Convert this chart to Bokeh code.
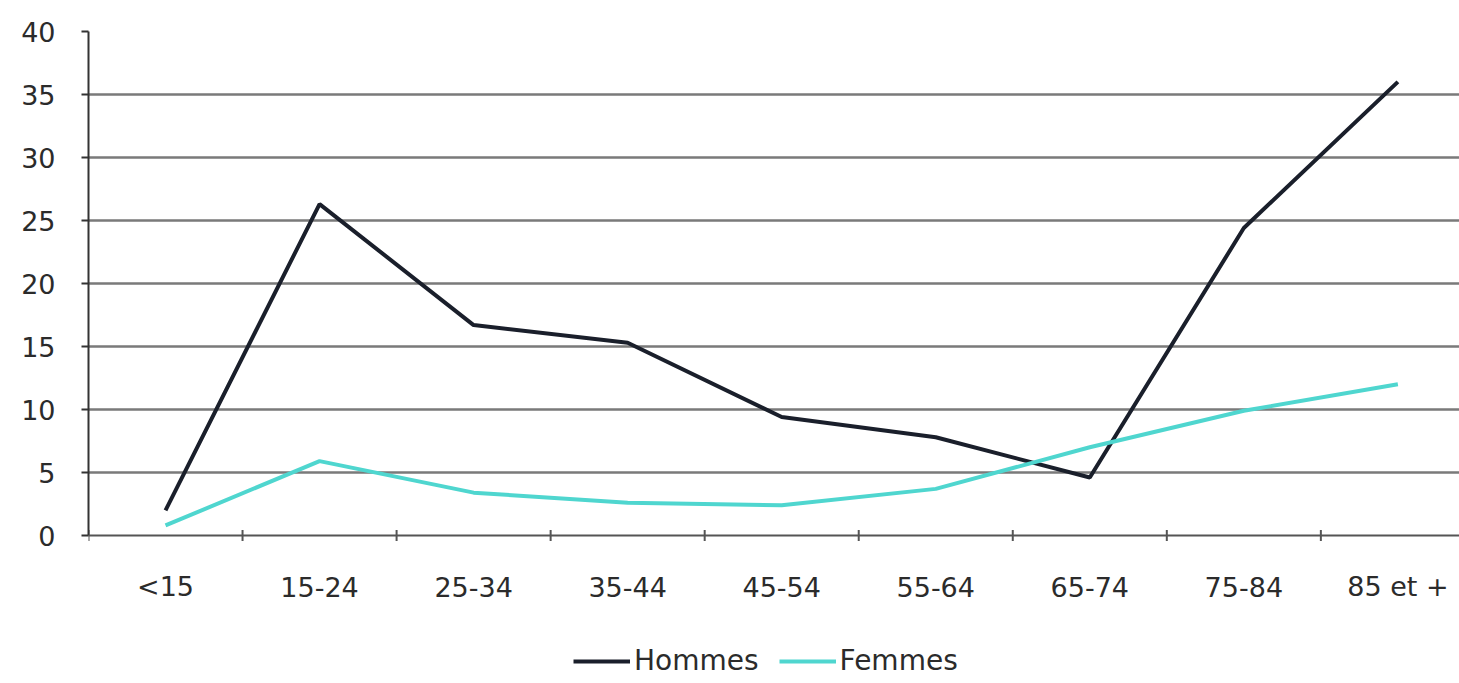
import math
from bokeh.plotting import figure
from bokeh.models import Range1d, FixedTicker, Legend, LegendItem, LinearAxis, Grid, Span
from bokeh.core.properties import value
from bokeh.embed import file_html
from bokeh.resources import INLINE

categories = ["<15", "15-24", "25-34", "35-44", "45-54", "55-64", "65-74", "75-84", "85 et +"]
hommes = [2.0, 26.3, 16.7, 15.3, 9.4, 7.8, 4.6, 24.4, 36.0]
femmes = [0.8, 5.9, 3.4, 2.6, 2.4, 3.7, 7.0, 9.9, 12.0]
y_ticks = [0, 5, 10, 15, 20, 25, 30, 35, 40]

xs = list(range(len(categories)))
boundaries = [i - 0.5 for i in xs]
font = "DejaVu Sans"
fsize = "27px"
tcolor = "#2b2b2b"
axis_color = "#555555"

# frame extends to the bottom of the window; value 0 sits 148 px above it
y_min = -148 / (504 / 40)

p = figure(frame_width=1371, frame_height=652, output_backend="svg", toolbar_location=None,
           x_range=Range1d(-0.5, len(categories) - 0.6), y_range=Range1d(y_min, 40),
           min_border_left=88, min_border_right=0, min_border_top=31, min_border_bottom=0,
           x_axis_type=None, y_axis_type=None)
p.outline_line_color = None
p.background_fill_color = "white"
p.border_fill_color = "white"

# y axis
yax = LinearAxis(ticker=FixedTicker(ticks=y_ticks), bounds=(0, 40))
yax.axis_line_color = "#333333"
yax.axis_line_width = 2
yax.major_tick_in = 0
yax.major_tick_out = 7
yax.major_tick_line_color = "#333333"
yax.major_tick_line_width = 2
yax.minor_tick_line_color = None
yax.major_label_text_font = font
yax.major_label_text_font_size = fsize
yax.major_label_text_color = tcolor
yax.major_label_standoff = 26
p.add_layout(yax, "left")

g = Grid(dimension=1, ticker=FixedTicker(ticks=y_ticks[1:]))
g.grid_line_color = "#7a7a7a"
g.grid_line_width = 2.5
p.add_layout(g)

# x axis drawn at value 0
p.add_layout(Span(location=0, dimension="width", line_color=axis_color, line_width=2))
p.scatter(boundaries, [0] * len(boundaries), marker="dash", angle=math.pi / 2,
          size=11, line_color=axis_color, line_width=2)
p.text(xs, [0] * len(xs), text=categories, y_offset=51,
       text_font=value(font), text_font_size=fsize, text_color=tcolor,
       text_align="center", text_baseline="middle")

r1 = p.line(xs, hommes, line_color="#1a1f2b", line_width=4)
r2 = p.line(xs, femmes, line_color="#4fd6cf", line_width=4)

legend = Legend(items=[LegendItem(label="Hommes", renderers=[r1]),
                       LegendItem(label="Femmes", renderers=[r2])],
                orientation="horizontal", location=(485, 6))
legend.label_text_font = font
legend.label_text_font_size = "28px"
legend.label_text_color = tcolor
legend.glyph_width = 57
legend.label_standoff = 4
legend.spacing = 20
legend.border_line_color = None
legend.background_fill_alpha = 0
legend.padding = 0
legend.margin = 0
p.add_layout(legend)

open("out.html", "w").write(file_html(p, INLINE))
